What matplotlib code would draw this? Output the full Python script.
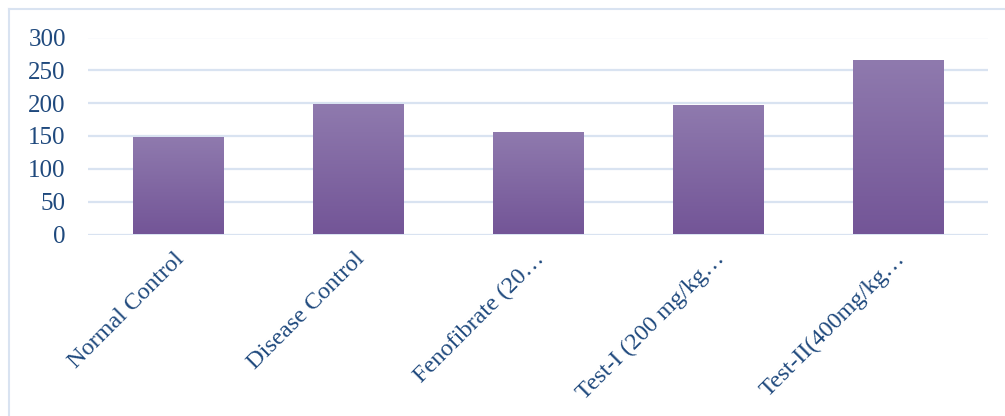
import numpy as np
import matplotlib.pyplot as plt
import matplotlib.transforms as mtransforms
from matplotlib.colors import LinearSegmentedColormap

# Group names and measured values
groups = ["Normal Control", "Disease Control", "Fenofibrate (20\u2026",
          "Test-I (200 mg/kg\u2026", "Test-II(400mg/kg\u2026"]
values = [147, 197, 155, 196, 264]
yticks = [0, 50, 100, 150, 200, 250, 300]

text_col = "#1F497D"
grid_col = "#D9E3F1"
grad = LinearSegmentedColormap.from_list("bar_grad", ["#735597", "#8F7AAE"])
font = "Liberation Serif"

fig = plt.figure(figsize=(10.05, 4.16), dpi=100)

# light frame around the chart area (top and left edges visible)
fig.add_artist(plt.Line2D([9 / 1005, 9 / 1005], [0, 1 - 9 / 416],
                          transform=fig.transFigure, color=grid_col, lw=1.5))
fig.add_artist(plt.Line2D([9 / 1005, 1], [1 - 9 / 416, 1 - 9 / 416],
                          transform=fig.transFigure, color=grid_col, lw=1.5))

ax = fig.add_axes([88 / 1005, (416 - 234.5) / 416, 900 / 1005, 197 / 416])

x = np.arange(len(groups))
width = 0.505
bars = ax.bar(x, values, width=width, color="none", edgecolor="none", zorder=3)

# vertical gradient fill for each bar
g = np.linspace(0, 1, 256).reshape(-1, 1)
for b in bars:
    x0, w, h = b.get_x(), b.get_width(), b.get_height()
    ax.imshow(g, cmap=grad, origin="lower", aspect="auto",
              extent=(x0, x0 + w, 0, h), zorder=3)

ax.set_xlim(-0.5, len(groups) - 0.5)
ax.set_ylim(0, 300)
ax.set_yticks(yticks)
ax.yaxis.grid(True, color=grid_col, lw=1.6, zorder=0)
ax.set_axisbelow(True)
for s in ax.spines.values():
    s.set_visible(False)

ax.tick_params(axis="both", length=0, colors=text_col)
ax.tick_params(axis="y", pad=16)
ax.set_xticks(x)
ax.set_xticklabels(groups, rotation=45, ha="right", va="top",
                   rotation_mode="anchor", fontsize=17.5,
                   family=font, color=text_col)
for lab in ax.get_yticklabels():
    lab.set_fontsize(18)
    lab.set_family(font)
ax.tick_params(axis="x", pad=10)

# nudge the slanted labels slightly left
shift = mtransforms.ScaledTranslation(-4 / 100, 0, fig.dpi_scale_trans)
for lab in ax.get_xticklabels():
    lab.set_transform(lab.get_transform() + shift)

fig.savefig("out.png", dpi=100)
